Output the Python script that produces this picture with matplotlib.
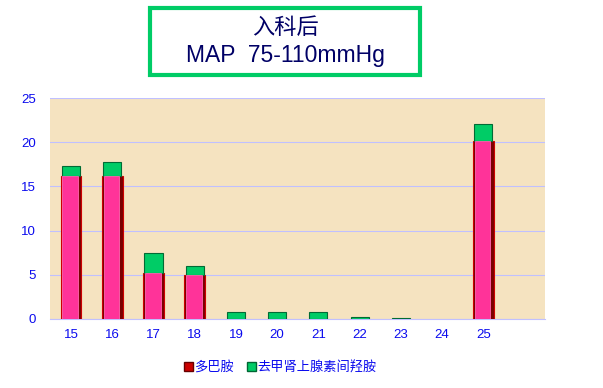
import matplotlib
matplotlib.use("Agg")
import matplotlib.pyplot as plt
from matplotlib.patches import Rectangle, Patch

plt.rcParams['font.family'] = ['Liberation Sans', 'Noto Sans CJK SC', 'DejaVu Sans']

categories = [15, 16, 17, 18, 19, 20, 21, 22, 23, 24, 25]
dopamine = [16.2, 16.2, 5.2, 5.0, 0, 0, 0, 0, 0, 0, 20.2]
norepi = [1.1, 1.6, 2.3, 1.0, 0.8, 0.8, 0.8, 0.2, 0.1, 0, 1.9]
yticks = [0, 5, 10, 15, 20, 25]

tick_color = '#0a0aee'

fig = plt.figure(figsize=(6.03, 3.88), dpi=100)
ax = fig.add_axes([0.083, 0.178, 0.821, 0.569])
ax.set_facecolor('#f5e3c0')

# pink bars with dark red frame
lw_pink = [0.8 if v > 0 else 0 for v in dopamine]
lw_green = [0.8 if v > 0 else 0 for v in norepi]
ax.bar(categories, dopamine, width=0.5, color='#7a0000', edgecolor='#cc0000',
       linewidth=lw_pink, zorder=3)
ax.bar([c - 0.02 for c in categories], dopamine, width=0.38, color='#ff3399',
       edgecolor='#ff66b2', linewidth=[0.6 if v > 0 else 0 for v in dopamine], zorder=4)
# green caps on top
ax.bar(categories, norepi, bottom=dopamine, width=0.44, color='#00cc66',
       edgecolor='#006b35', linewidth=lw_green, zorder=3)

ax.set_xlim(14.49, 26.5)
ax.set_ylim(0, 25)
ax.set_xticks(categories)
ax.set_yticks(yticks)
ax.tick_params(axis='both', length=0, colors=tick_color, labelsize=9.5)
ax.tick_params(axis='x', pad=7)
ax.tick_params(axis='y', pad=10)
ax.grid(axis='y', color='#c0c0ff', linewidth=0.8, zorder=1)
for s in ['top', 'right', 'left']:
    ax.spines[s].set_visible(False)
ax.spines['bottom'].set_color('#c0c0ff')

# title box
fig.patches.append(Rectangle((0.249, 0.807), 0.448, 0.172, transform=fig.transFigure,
                             facecolor='white', edgecolor='#00cc66', linewidth=3))
fig.text(0.473, 0.930, '入科后', ha='center', va='center', fontsize=16, color='#000066',
         family=['Noto Sans CJK SC', 'DejaVu Sans'])
fig.text(0.473, 0.858, 'MAP  75-110mmHg', ha='center', va='center', fontsize=16.5,
         color='#000066')

handles = [Patch(facecolor='#cc0000', edgecolor='#660000', label='多巴胺'),
           Patch(facecolor='#00cc66', edgecolor='#006633', label='去甲肾上腺素间羟胺')]
leg = fig.legend(handles=handles, loc='center', bbox_to_anchor=(0.465, 0.052), ncol=2,
                 frameon=False, handlelength=0.7, handleheight=0.7,
                 handletextpad=0.1, columnspacing=1.0,
                 prop={'family': ['Noto Sans CJK SC', 'DejaVu Sans'], 'size': 9.5})
for t in leg.get_texts():
    t.set_color(tick_color)

fig.savefig('out.png', dpi=100)
